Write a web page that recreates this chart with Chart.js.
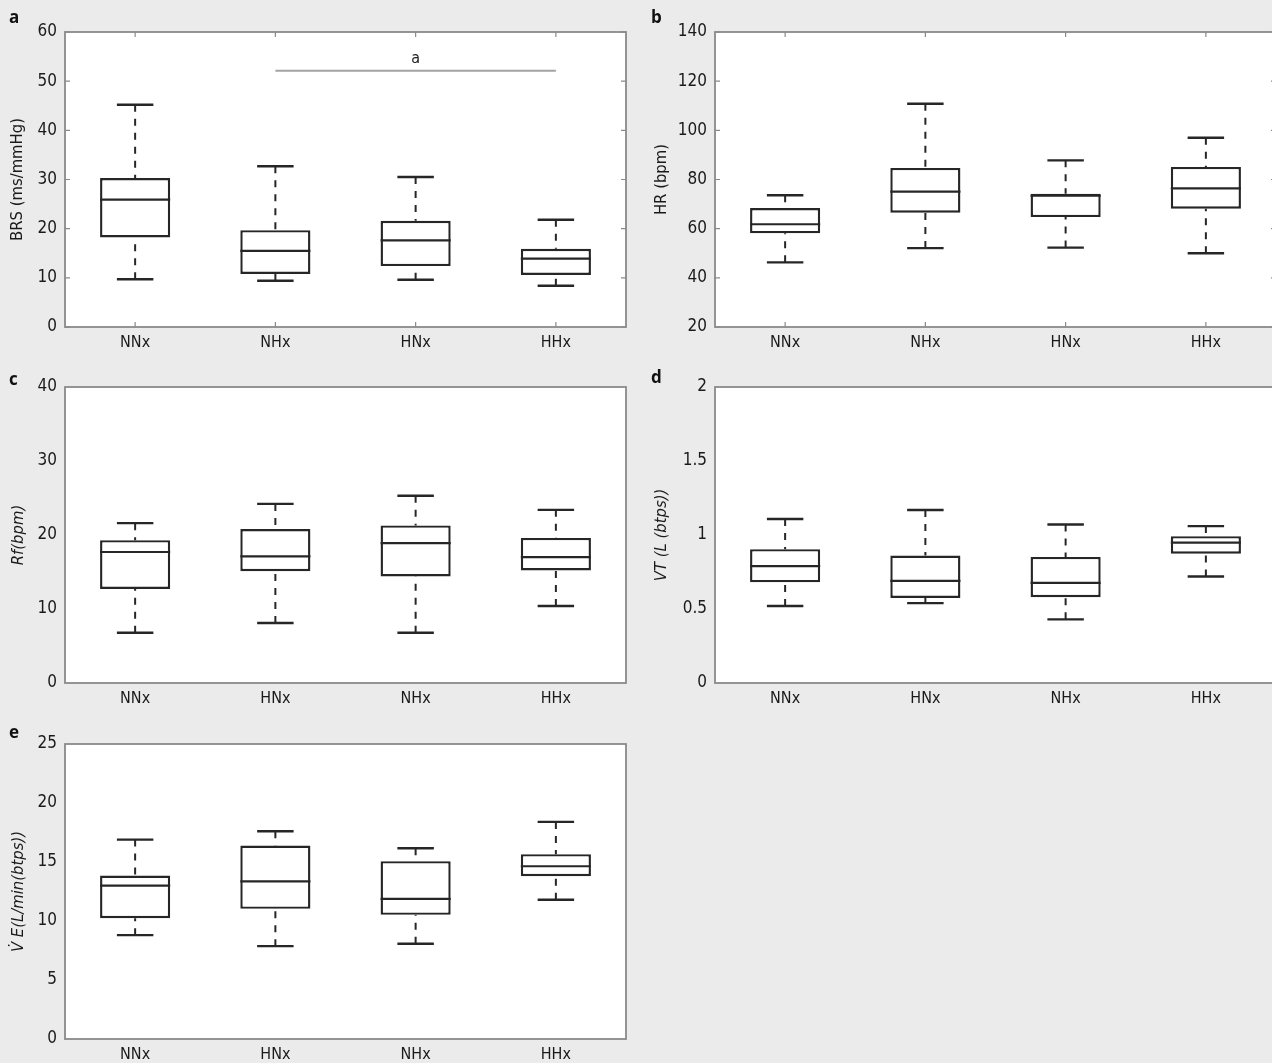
<!DOCTYPE html>
<html>
<head>
<meta charset="utf-8">
<script src="https://cdn.jsdelivr.net/npm/chart.js@4"></script>
<style>
  html, body { margin: 0; padding: 0; background: #ebebeb; width: 1272px; height: 1063px; overflow: hidden; }
  .wrap { position: absolute; }
  .lbl { position: absolute; font: bold 17px 'Open Sans', 'DejaVu Sans', sans-serif; line-height: 1; color: #111; }
</style>
</head>
<body>
<div class="wrap" style="left:0;top:0"><canvas id="ca" width="640" height="356"></canvas></div>
<div class="wrap" style="left:640px;top:0"><canvas id="cb" width="640" height="356"></canvas></div>
<div class="wrap" style="left:0;top:356px"><canvas id="cc" width="640" height="356"></canvas></div>
<div class="wrap" style="left:640px;top:356px"><canvas id="cd" width="640" height="356"></canvas></div>
<div class="wrap" style="left:0;top:712px"><canvas id="ce" width="640" height="351"></canvas></div>
<span class="lbl" style="left:9px;top:8px">a</span>
<span class="lbl" style="left:651px;top:8px">b</span>
<span class="lbl" style="left:9px;top:370px">c</span>
<span class="lbl" style="left:651px;top:368px">d</span>
<span class="lbl" style="left:9px;top:723px">e</span>
<script>
// ---------- categories ----------
const CATS_AB = ['NNx', 'NHx', 'HNx', 'HHx'];
const CATS_CDE = ['NNx', 'HNx', 'NHx', 'HHx'];

// ---------- a: BRS ----------
const BRS_MIN = [9.7, 9.4, 9.6, 8.4];
const BRS_Q1  = [18.2, 10.8, 12.4, 10.6];
const BRS_MED = [25.9, 15.5, 17.6, 13.9];
const BRS_Q3  = [30.3, 19.7, 21.6, 15.9];
const BRS_MAX = [45.2, 32.7, 30.5, 21.8];
const BRS_TICKS = [0, 10, 20, 30, 40, 50, 60];
const BRS_SIG_FROM = 'NHx', BRS_SIG_TO = 'HHx', BRS_SIG_Y = 52.1, BRS_SIG_LABEL = 'a';

// ---------- b: HR ----------
const HR_MIN = [46.3, 52.1, 52.3, 50.0];
const HR_Q1  = [58.1, 66.5, 64.7, 68.1];
const HR_MED = [61.8, 75.1, 73.4, 76.4];
const HR_Q3  = [68.4, 84.7, 74.2, 85.1];
const HR_MAX = [73.6, 110.8, 87.8, 97.0];
const HR_TICKS = [20, 40, 60, 80, 100, 120, 140];

// ---------- c: Rf ----------
const RF_MIN = [6.8, 8.1, 6.8, 10.4];
const RF_Q1  = [12.7, 15.1, 14.4, 15.2];
const RF_MED = [17.7, 17.1, 18.9, 17.0];
const RF_Q3  = [19.3, 20.8, 21.3, 19.6];
const RF_MAX = [21.6, 24.2, 25.3, 23.4];
const RF_TICKS = [0, 10, 20, 30, 40];

// ---------- d: VT ----------
const VT_MIN = [0.52, 0.54, 0.43, 0.72];
const VT_Q1  = [0.68, 0.575, 0.58, 0.874];
const VT_MED = [0.79, 0.69, 0.677, 0.949];
const VT_Q3  = [0.904, 0.861, 0.852, 0.992];
const VT_MAX = [1.108, 1.169, 1.071, 1.06];
const VT_TICKS = [0, 0.5, 1, 1.5, 2];

// ---------- e: VE ----------
const VE_MIN = [8.8, 7.87, 8.07, 11.8];
const VE_Q1  = [10.24, 11.03, 10.52, 13.8];
const VE_MED = [13.0, 13.35, 11.88, 14.64];
const VE_Q3  = [13.85, 16.4, 15.07, 15.66];
const VE_MAX = [16.9, 17.6, 16.17, 18.4];
const VE_TICKS = [0, 5, 10, 15, 20, 25];

const FONT = "'Liberation Sans Narrow', 'DejaVu Sans Condensed', 'Open Sans', sans-serif";
const INK = '#262626';

const boxPlugin = {
  id: 'boxExtras',
  beforeDatasetsDraw(chart) {
    const {ctx, chartArea: a} = chart;
    ctx.save();
    ctx.fillStyle = '#ffffff';
    ctx.fillRect(a.left, a.top, a.right - a.left, a.bottom - a.top);
    ctx.restore();
  },
  afterDatasetsDraw(chart) {
    const o = chart.options.plugins.boxExtras;
    const ctx = chart.ctx;
    const y = chart.scales.y, x = chart.scales.x;
    const meta = chart.getDatasetMeta(0);
    ctx.save();
    meta.data.forEach((bar, i) => {
      const cx = bar.x;
      const half = bar.width / 2;
      const capHalf = half * 0.52;
      const pMin = y.getPixelForValue(o.min[i]);
      const pMax = y.getPixelForValue(o.max[i]);
      const pQ1 = y.getPixelForValue(o.q1[i]);
      const pQ3 = y.getPixelForValue(o.q3[i]);
      const pMed = y.getPixelForValue(o.med[i]);
      // whiskers (dashed)
      ctx.strokeStyle = INK;
      ctx.lineWidth = 2;
      ctx.setLineDash([7, 7]);
      ctx.beginPath();
      ctx.moveTo(cx, pMax); ctx.lineTo(cx, pQ3);
      ctx.moveTo(cx, pMin); ctx.lineTo(cx, pQ1);
      ctx.stroke();
      ctx.setLineDash([]);
      // caps
      ctx.lineWidth = 2.4;
      ctx.beginPath();
      ctx.moveTo(cx - capHalf, pMax); ctx.lineTo(cx + capHalf, pMax);
      ctx.moveTo(cx - capHalf, pMin); ctx.lineTo(cx + capHalf, pMin);
      ctx.stroke();
      // median
      ctx.lineWidth = 2.2;
      ctx.beginPath();
      ctx.moveTo(cx - half, pMed); ctx.lineTo(cx + half, pMed);
      ctx.stroke();
    });
    // significance bar
    if (o.sig) {
      const x1 = x.getPixelForValue(chart.data.labels.indexOf(o.sig.from));
      const x2 = x.getPixelForValue(chart.data.labels.indexOf(o.sig.to));
      const py = y.getPixelForValue(o.sig.y);
      ctx.strokeStyle = '#a3a3a3';
      ctx.lineWidth = 2;
      ctx.beginPath();
      ctx.moveTo(x1, py); ctx.lineTo(x2, py);
      ctx.stroke();
      ctx.fillStyle = '#222';
      ctx.font = '16px ' + FONT;
      ctx.textAlign = 'center';
      ctx.textBaseline = 'bottom';
      ctx.fillText(o.sig.label, (x1 + x2) / 2, py - 4);
    }
    ctx.restore();
  },
  afterDraw(chart) {
    const o = chart.options.plugins.boxExtras;
    const {ctx, chartArea: a} = chart;
    const y = chart.scales.y, x = chart.scales.x;
    ctx.save();
    ctx.strokeStyle = '#8a8a8a';
    ctx.lineWidth = 1.8;
    ctx.strokeRect(a.left, a.top, a.right - a.left, a.bottom - a.top);
    if (o.innerTicks) {
      ctx.lineWidth = 1.2;
      ctx.beginPath();
      y.ticks.forEach(t => {
        const py = y.getPixelForValue(t.value);
        ctx.moveTo(a.left, py); ctx.lineTo(a.left + 5, py);
        ctx.moveTo(a.right, py); ctx.lineTo(a.right - 5, py);
      });
      chart.data.labels.forEach((l, i) => {
        const px = x.getPixelForValue(i);
        ctx.moveTo(px, a.bottom); ctx.lineTo(px, a.bottom - 5);
        ctx.moveTo(px, a.top); ctx.lineTo(px, a.top + 5);
      });
      ctx.stroke();
    }
    ctx.restore();
  }
};

function makePanel(id, cats, mn, q1, med, q3, mx, ticks, title, cfg) {
  const yWidth = cfg.yWidth;
  new Chart(document.getElementById(id), {
    type: 'bar',
    data: {
      labels: cats,
      datasets: [{
        data: cats.map((c, i) => [q1[i], q3[i]]),
        backgroundColor: '#ffffff',
        borderColor: INK,
        borderWidth: 2.4,
        borderSkipped: false,
        barPercentage: 0.5,
        categoryPercentage: 1.0
      }]
    },
    options: {
      responsive: false,
      animation: false,
      devicePixelRatio: 1,
      layout: { padding: cfg.padding },
      plugins: {
        legend: { display: false },
        tooltip: { enabled: false },
        boxExtras: { min: mn, q1: q1, med: med, q3: q3, max: mx, sig: cfg.sig || null, innerTicks: !!cfg.innerTicks }
      },
      scales: {
        x: {
          grid: { display: false, drawTicks: false },
          border: { display: false },
          ticks: { color: '#1a1a1a', font: { family: FONT, size: 16 }, padding: 6, maxRotation: 0 },
          afterFit(s) { s.height = 24; }
        },
        y: {
          min: ticks[0],
          max: ticks[ticks.length - 1],
          grid: { display: false, drawTicks: false },
          border: { display: false },
          afterBuildTicks(s) { s.ticks = ticks.map(v => ({ value: v })); },
          ticks: { color: '#1a1a1a', font: { family: FONT, size: 17 }, padding: 8, callback: v => String(v) },
          title: {
            display: true, text: title, color: '#1a1a1a',
            font: { family: FONT, size: 16.5, style: cfg.italic ? 'italic' : 'normal' },
            padding: { top: cfg.titlePad, bottom: 0 }
          },
          afterFit(s) { s.width = yWidth; }
        }
      }
    },
    plugins: [boxPlugin]
  });
}

makePanel('ca', CATS_AB, BRS_MIN, BRS_Q1, BRS_MED, BRS_Q3, BRS_MAX, BRS_TICKS, 'BRS (ms/mmHg)',
  { yWidth: 65, padding: { left: 0, top: 32, right: 14, bottom: 5 }, titlePad: 8, innerTicks: true,
    sig: { from: BRS_SIG_FROM, to: BRS_SIG_TO, y: BRS_SIG_Y, label: BRS_SIG_LABEL } });
makePanel('cb', CATS_AB, HR_MIN, HR_Q1, HR_MED, HR_Q3, HR_MAX, HR_TICKS, 'HR (bpm)',
  { yWidth: 75, padding: { left: 0, top: 32, right: 4, bottom: 5 }, titlePad: 12, innerTicks: true });
makePanel('cc', CATS_CDE, RF_MIN, RF_Q1, RF_MED, RF_Q3, RF_MAX, RF_TICKS, 'Rf(bpm)',
  { yWidth: 65, padding: { left: 0, top: 31, right: 14, bottom: 5 }, titlePad: 9, italic: true });
makePanel('cd', CATS_CDE, VT_MIN, VT_Q1, VT_MED, VT_Q3, VT_MAX, VT_TICKS, 'VT (L (btps))',
  { yWidth: 75, padding: { left: 0, top: 31, right: 4, bottom: 5 }, titlePad: 12, italic: true });
makePanel('ce', CATS_CDE, VE_MIN, VE_Q1, VE_MED, VE_Q3, VE_MAX, VE_TICKS, 'V\u0307 E(L/min(btps))',
  { yWidth: 65, padding: { left: 0, top: 32, right: 14, bottom: 0 }, titlePad: 9, italic: true });
</script>
</body>
</html>
